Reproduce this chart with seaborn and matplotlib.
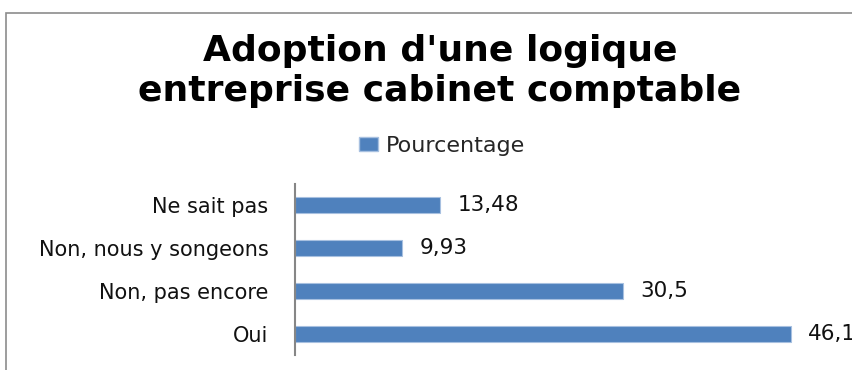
import matplotlib
matplotlib.use("Agg")
import matplotlib.pyplot as plt
import seaborn as sns
import pandas as pd
from matplotlib.patches import Rectangle, Patch

categories = ["Ne sait pas", "Non, nous y songeons", "Non, pas encore", "Oui"]
values = [13.48, 9.93, 30.5, 46.1]
series_name = "Pourcentage"
title = "Adoption d'une logique\nentreprise cabinet comptable"

sns.set_theme(style="white")
plt.rcParams["font.family"] = ["DejaVu Sans"]

df = pd.DataFrame({"cat": categories, "val": values})

W, H = 853, 370
fig = plt.figure(figsize=(W / 100, H / 100), dpi=100)
ax = fig.add_axes([295 / W, 1 - 355 / H, (833 - 295) / W, (355 - 184) / H])

bar_color = "#4F81BD"
sns.barplot(data=df, x="val", y="cat", orient="h", color=bar_color,
            width=0.37, edgecolor="#A7C0E0", linewidth=0.8, ax=ax,
            saturation=1)

ax.set_xlim(0, 50)
ax.set_xlabel("")
ax.set_ylabel("")
ax.set_xticks([])
for s in ["top", "right", "bottom"]:
    ax.spines[s].set_visible(False)
ax.spines["left"].set_color("#868686")
ax.spines["left"].set_linewidth(1.5)
ax.tick_params(axis="y", length=0, pad=19, labelsize=15, labelcolor="#111111")

for i, v in enumerate(values):
    ax.annotate(f"{v:g}".replace(".", ","), xy=(v, i), xytext=(12.5, 0),
                textcoords="offset points", va="center", ha="left",
                fontsize=15.5, color="#111111", annotation_clip=False)

# chart area border
fig.patches.append(Rectangle((6 / W, -0.1), 1.2, 1.1 - 13 / H,
                             transform=fig.transFigure, fill=False,
                             edgecolor="#8C8C8C", linewidth=1.2))

fig.text(440 / W, 1 - 71 / H, title, ha="center", va="center",
         fontsize=26, fontweight="bold", linespacing=1.2, color="black")

handle = Patch(facecolor=bar_color, edgecolor="#A7C0E0")
fig.legend([handle], [series_name], loc="center", bbox_to_anchor=(442 / W, 1 - 146 / H),
           frameon=False, fontsize=16, handlelength=0.85, handleheight=0.55,
           handletextpad=0.35, borderpad=0)

fig.savefig("out.png", dpi=100)
